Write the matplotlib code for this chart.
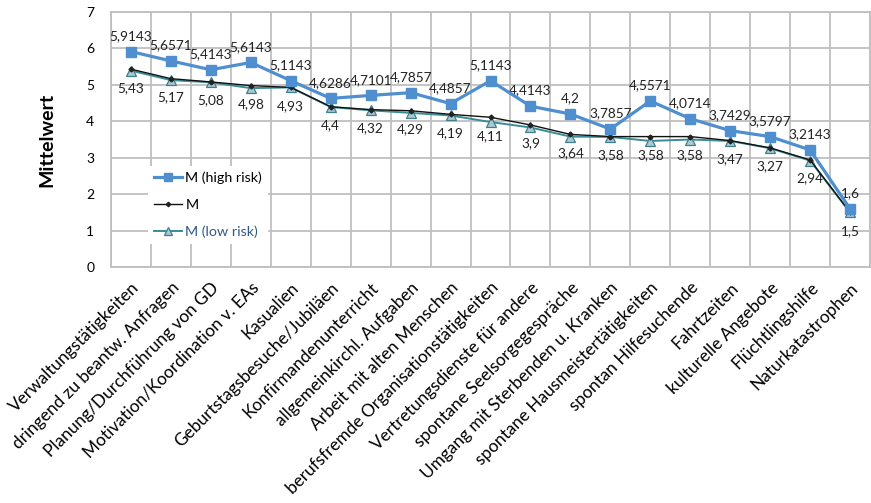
import matplotlib
matplotlib.use("Agg")
import matplotlib.pyplot as plt
from matplotlib.ticker import FixedLocator, NullFormatter

plt.rcParams['font.family'] = ['Lato', 'DejaVu Sans']

categories = ["Verwaltungstätigkeiten", "dringend zu beantw. Anfragen", "Planung/Durchführung von GD",
              "Motivation/Koordination v. EAs", "Kasualien", "Geburtstagsbesuche/Jubiläen",
              "Konfirmandenunterricht", "allgemeinkirchl. Aufgaben", "Arbeit mit alten Menschen",
              "berufsfremde Organisationstätigkeiten", "Vertretungsdienste für andere",
              "spontane Seelsorgegespräche", "Umgang mit Sterbenden u. Kranken",
              "spontane Hausmeistertätigkeiten", "spontan Hilfesuchende", "Fahrtzeiten",
              "kulturelle Angebote", "Flüchtlingshilfe", "Naturkatastrophen"]
m_high = [5.9143, 5.6571, 5.4143, 5.6143, 5.1143, 4.6286, 4.7101, 4.7857, 4.4857, 5.1143,
          4.4143, 4.2, 3.7857, 4.5571, 4.0714, 3.7429, 3.5797, 3.2143, 1.6]
m_all = [5.43, 5.17, 5.08, 4.98, 4.93, 4.4, 4.32, 4.29, 4.19, 4.11, 3.9, 3.64, 3.58, 3.58,
         3.58, 3.47, 3.27, 2.94, 1.5]
m_low = [5.39, 5.13, 5.07, 4.91, 4.93, 4.39, 4.30, 4.23, 4.16, 3.98, 3.83, 3.58, 3.57, 3.46,
         3.50, 3.46, 3.26, 2.92, 1.50]

def fmt(v):
    s = ("%.4f" % v).rstrip('0').rstrip('.')
    return s.replace('.', ',')

fig = plt.figure(figsize=(8.71, 5.03), dpi=100)
ax = fig.add_axes([111/871, 1-267/503, 759/871, 255/503])

x = list(range(len(categories)))
blue = '#4F8FCF'
teal = '#3A8C96'

l1, = ax.plot(x, m_high, color=blue, lw=2.3, marker='s', ms=7, mfc=blue, mec=blue,
              label='M (high risk)', zorder=5)
l2, = ax.plot(x, m_all, color='#111111', lw=1.0, marker='D', ms=2.5, mfc='#222222',
              mec='#222222', label='M', zorder=4)
l3, = ax.plot(x, m_low, color=teal, lw=1.4, marker='^', ms=6.5, mfc='#A9C9D3',
              mec='#3D7F8C', mew=0.9, label='M (low risk)', zorder=3)

for i in x:
    ax.annotate(fmt(m_high[i]), (i, m_high[i]), xytext=(0, 7), textcoords='offset points',
                ha='center', va='bottom', fontsize=9.8, color='#222222')
    ax.annotate(fmt(m_all[i]), (i, m_all[i]), xytext=(0, -9), textcoords='offset points',
                ha='center', va='top', fontsize=9.8, color='#222222')

ax.set_xlim(-0.5, len(categories) - 0.5)
ax.set_ylim(0, 7)
ax.set_yticks(range(0, 8))
ax.tick_params(axis='y', length=0, labelsize=10, pad=12)
ax.set_xticks(x)
ax.set_xticklabels(categories, rotation=45, ha='right', rotation_mode='anchor',
                   fontsize=12.4)
ax.tick_params(axis='x', length=0, pad=9)
ax.xaxis.set_minor_locator(FixedLocator([i - 0.5 for i in range(len(categories) + 1)]))
ax.xaxis.set_minor_formatter(NullFormatter())
ax.tick_params(axis='x', which='minor', length=0)
ax.grid(True, axis='y', which='major', color='#BFBFBF', lw=1.3)
ax.grid(True, axis='x', which='minor', color='#BFBFBF', lw=1.3)
ax.grid(False, axis='x', which='major')
ax.set_axisbelow(True)
for s in ax.spines.values():
    s.set_color('#BFBFBF')
    s.set_linewidth(1.3)

ax.set_ylabel('Mittelwert', fontsize=14, fontweight='bold', labelpad=22)

leg = ax.legend(loc='upper left', bbox_to_anchor=(30/759, 1 - 147/255), frameon=True,
                fontsize=10.3, handlelength=2.0, labelspacing=1.02, borderpad=0.4,
                handletextpad=0.2, markerscale=0.9)
leg.get_frame().set_edgecolor('none')
leg.get_frame().set_facecolor('white')
leg.get_frame().set_alpha(1)
leg.get_texts()[2].set_color('#2E5A88')

fig.savefig('out.png', dpi=100)
